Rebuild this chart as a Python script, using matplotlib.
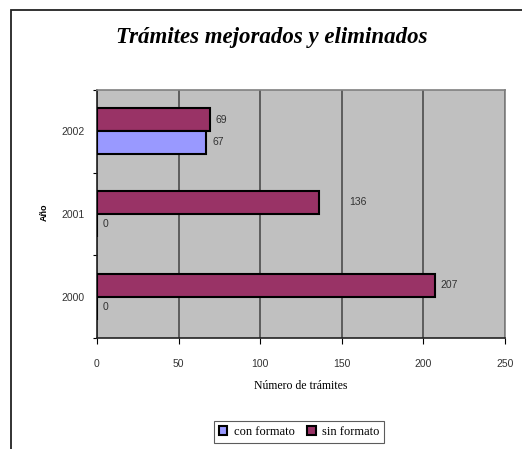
import matplotlib
matplotlib.use("Agg")
import matplotlib.pyplot as plt
import numpy as np
from matplotlib.patches import Rectangle

# data
years = ["2000", "2001", "2002"]
con_formato = [0, 0, 67]
sin_formato = [207, 136, 69]
x_ticks = [0, 50, 100, 150, 200, 250]

purple = "#993366"
blue = "#9999FF"
grid_bg = "#C0C0C0"

fig = plt.figure(figsize=(5.22, 4.49), dpi=100)

# outer chart frame (only top and left edges are visible in the crop)
fig.patches.append(Rectangle((11 / 522, -0.1), 1.2, (449 - 10) / 449 + 0.1,
                             transform=fig.transFigure, fill=False,
                             edgecolor="#222222", linewidth=1.3))

ax = fig.add_axes([97 / 522, 1 - 338 / 449, 408 / 522, 248 / 449])
ax.set_facecolor(grid_bg)

y = np.arange(len(years))
h = 0.28
bars_sin = ax.barh(y + h / 2, sin_formato, height=h, color=purple,
                   edgecolor="black", linewidth=1.5, label="sin formato", zorder=3)
bars_con = ax.barh(y - h / 2, con_formato, height=h, color=blue,
                   edgecolor="black", linewidth=1.5, label="con formato", zorder=3)

# value labels (horizontal gap in px after the bar end)
gap_sin = [6, 30, 6]
gap_con = [6, 6, 6]
for yi, v, g in zip(y + h / 2, sin_formato, gap_sin):
    ax.annotate(f"{v}", (v, yi), xytext=(g * 0.72, 0), textcoords="offset points",
                ha="left", va="center", fontsize=7.5, color="#333333",
                family="Liberation Sans", zorder=4)
for yi, v, g in zip(y - h / 2, con_formato, gap_con):
    ax.annotate(f"{v}", (v, yi), xytext=(g * 0.72, 1), textcoords="offset points",
                ha="left", va="center", fontsize=7.5, color="#333333",
                family="Liberation Sans", zorder=4)

ax.set_xlim(0, 250)
ax.set_ylim(-0.5, len(years) - 0.5)
ax.set_xticks(x_ticks)
ax.set_xticklabels([str(t) for t in x_ticks], fontsize=7.5, color="#333333",
                   family="Liberation Sans")
ax.xaxis.grid(True, color="#555555", linewidth=1.3, zorder=0)
ax.set_axisbelow(True)

# category ticks at the boundaries, labels at the centres
ax.set_yticks(np.arange(-0.5, len(years), 1.0))
ax.set_yticklabels([])
ax.set_yticks(y, minor=True)
ax.set_yticklabels(years, minor=True, fontsize=7.5, color="#333333",
                   family="Liberation Sans")
ax.tick_params(axis="y", which="minor", length=0, pad=9)
ax.tick_params(axis="y", which="major", length=3, width=0.8, direction="out")
ax.tick_params(axis="x", length=4, width=0.8, direction="out", pad=11)

for side in ["top", "right"]:
    ax.spines[side].set_color("#808080")
    ax.spines[side].set_linewidth(1.2)
ax.spines["left"].set_color("#222222")
ax.spines["bottom"].set_color("#222222")
ax.spines["left"].set_linewidth(1.2)
ax.spines["bottom"].set_linewidth(1.2)

ax.set_xlabel("Número de trámites", fontsize=8.5, family="Liberation Serif",
              labelpad=8)
fig.text(44 / 522, 1 - 212 / 449, "Año", rotation=90, fontsize=6.5,
         fontweight="bold", ha="center", va="center", family="Liberation Sans")

fig.text(272 / 522, 1 - 38 / 449, "Trámites mejorados y eliminados",
         fontsize=16.5, fontweight="bold", fontstyle="italic",
         family="Liberation Serif", ha="center", va="center")

leg = fig.legend(handles=[bars_con, bars_sin], labels=["con formato", "sin formato"],
                 loc="center", bbox_to_anchor=(299 / 522, 1 - 432 / 449),
                 ncol=2, prop={"family": "Liberation Serif", "size": 9},
                 handlelength=0.7, handleheight=0.7, handletextpad=0.5,
                 columnspacing=1.0, frameon=True, fancybox=False,
                 borderpad=0.4)
leg.get_frame().set_edgecolor("#333333")
leg.get_frame().set_linewidth(0.8)

fig.savefig("out.png", dpi=100)
